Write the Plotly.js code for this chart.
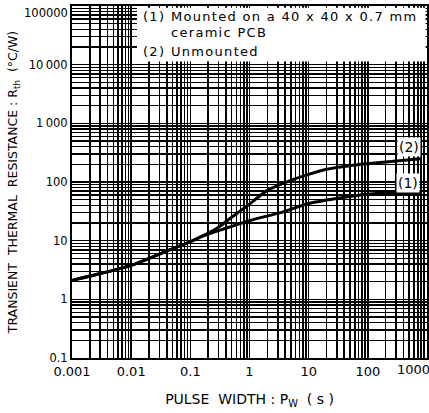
<!DOCTYPE html>
<html><head><meta charset="utf-8">
<script src="https://cdn.plot.ly/plotly-3.0.1.min.js"></script>
<style>
html,body{margin:0;padding:0;background:#fff}
#chart{width:429px;height:413px}
#chart g.annotation[data-index="2"] text,
#chart g.annotation[data-index="3"] text,
#chart g.annotation[data-index="4"] text,
#chart g.annotation[data-index="5"] text,
#chart g.annotation[data-index="6"] text{letter-spacing:1.3px}
</style>
</head><body><div id="chart"></div>
<script>
// Tick labels
const xDecades = [0.001, 0.01, 0.1, 1, 10, 100, 1000];
const xDecadeLabels = ['0.001', '0.01', '0.1', '1', '10', '100', ''];
const xLastLabel = '1000';
const yDecades = [0.1, 1, 10, 100, 1000, 10000, 100000];
const yDecadeLabels = ['0.1', '1', '10', '100', '1\u2009000', '10\u2009000', ''];
const yTopLabel = '100000';

// Series (1) Mounted on ceramic PCB
const mountedPw  = [0.001, 0.003, 0.01, 0.03, 0.1, 0.15, 0.3, 0.5, 1, 3.7, 10, 40, 100, 200, 800];
const mountedRth = [2.1, 2.75, 3.8, 5.9, 9.6, 11.6, 14.8, 17.5, 22, 31, 43, 55, 62, 65, 67];
// Series (2) Unmounted
const unmountedPw  = [0.001, 0.003, 0.01, 0.03, 0.1, 0.15, 0.3, 0.5, 1, 2, 5, 10, 20, 50, 100, 200, 800];
const unmountedRth = [2.1, 2.75, 3.8, 5.9, 9.6, 11.6, 17, 25, 42, 72, 107, 135, 165, 190, 205, 220, 250];

const legendLine1a = '(1)';
const legendLine1b = 'Mounted on a 40 x 40 x 0.7 mm';
const legendLine2 = 'ceramic PCB';
const legendLine3a = '(2)';
const legendLine3b = 'Unmounted';

function gridTicks(decades, labels) {
  const vals = [], text = [];
  decades.forEach((d, i) => {
    vals.push(d); text.push(labels[i]);
    if (i < decades.length - 1) {
      for (let m = 2; m <= 9; m++) { vals.push(d * m); text.push(''); }
    }
  });
  return {vals, text};
}
const xt = gridTicks(xDecades, xDecadeLabels);
const yt = gridTicks(yDecades, yDecadeLabels);

const F = 'DejaVu Sans, Arial, sans-serif';
const lineStyle = {color: '#000', width: 3, shape: 'spline', smoothing: 0.6};

const traces = [
  {x: mountedPw, y: mountedRth, mode: 'lines', line: lineStyle, name: '(1)', hoverinfo: 'skip'},
  {x: unmountedPw, y: unmountedRth, mode: 'lines', line: lineStyle, name: '(2)', hoverinfo: 'skip'}
];

const axisCommon = {
  type: 'log', tickmode: 'array', showgrid: true, gridcolor: '#000', gridwidth: 1.6,
  showline: true, linecolor: '#000', linewidth: 2, mirror: true, ticks: '', zeroline: false,
  tickfont: {family: F, size: 12, color: '#000'}
};

const lf = {family: F, size: 13, color: '#000'};
const legendAnn = (x, y, text) => ({xref: 'paper', yref: 'paper', x: x, y: y, xanchor: 'left', yanchor: 'middle',
  align: 'left', borderpad: 0, text: text, showarrow: false, font: lf});

const layout = {
  width: 429, height: 413,
  margin: {l: 72, r: 2, t: 6, b: 55},
  paper_bgcolor: '#fff', plot_bgcolor: '#fff',
  showlegend: false,
  font: {family: F, color: '#000'},
  xaxis: Object.assign({}, axisCommon, {
    range: [-3, 3], tickvals: xt.vals, ticktext: xt.text,
    tickfont: {family: F, size: 13, color: '#000'},
    title: {text: 'PULSE\u00A0\u00A0WIDTH : P<sub>W</sub>\u00A0\u00A0(\u00A0s\u00A0)', font: {family: F, size: 14, color: '#000'}, standoff: 17}
  }),
  yaxis: Object.assign({}, axisCommon, {
    range: [-1, 5], tickvals: yt.vals, ticktext: yt.text,
    tickfont: {family: F, size: 11.5, color: '#000'},
    title: {text: 'TRANSIENT\u00A0\u00A0THERMAL\u00A0\u00A0RESISTANCE : R<sub>th</sub>\u00A0\u00A0(°C/W)', font: {family: F, size: 12.5, color: '#000'}, standoff: 8}
  }),
  shapes: [
    {type: 'rect', xref: 'paper', yref: 'paper', x0: 0.183, x1: 0.996, y0: 0.842, y1: 0.995,
     fillcolor: '#fff', line: {width: 0}, layer: 'above'}
  ],
  annotations: [
    {xref: 'x', yref: 'paper', x: 3, y: 0, yanchor: 'top', xanchor: 'center', xshift: -14, yshift: -2,
     text: xLastLabel, showarrow: false, font: {family: F, size: 13, color: '#000'}},
    {xref: 'paper', yref: 'paper', x: 0, y: 1, yanchor: 'top', xanchor: 'right', xshift: -2, yshift: 2,
     text: yTopLabel, showarrow: false, font: {family: F, size: 11.5, color: '#000'}},
    legendAnn(0.197, 0.970, legendLine1a),
    legendAnn(0.276, 0.970, legendLine1b),
    legendAnn(0.276, 0.926, legendLine2),
    legendAnn(0.197, 0.872, legendLine3a),
    legendAnn(0.276, 0.872, legendLine3b),
    {xref: 'paper', yref: 'paper', x: 0.949, y: 0.599, xanchor: 'center', yanchor: 'middle', text: '(2)', showarrow: false, bgcolor: '#fff', borderpad: 1, font: {family: F, size: 14, color: '#000'}},
    {xref: 'paper', yref: 'paper', x: 0.946, y: 0.497, xanchor: 'center', yanchor: 'middle', text: '(1)', showarrow: false, bgcolor: '#fff', borderpad: 1, font: {family: F, size: 14, color: '#000'}}
  ]
};

Plotly.newPlot('chart', traces, layout, {displayModeBar: false, staticPlot: true});
</script>
</body></html>
